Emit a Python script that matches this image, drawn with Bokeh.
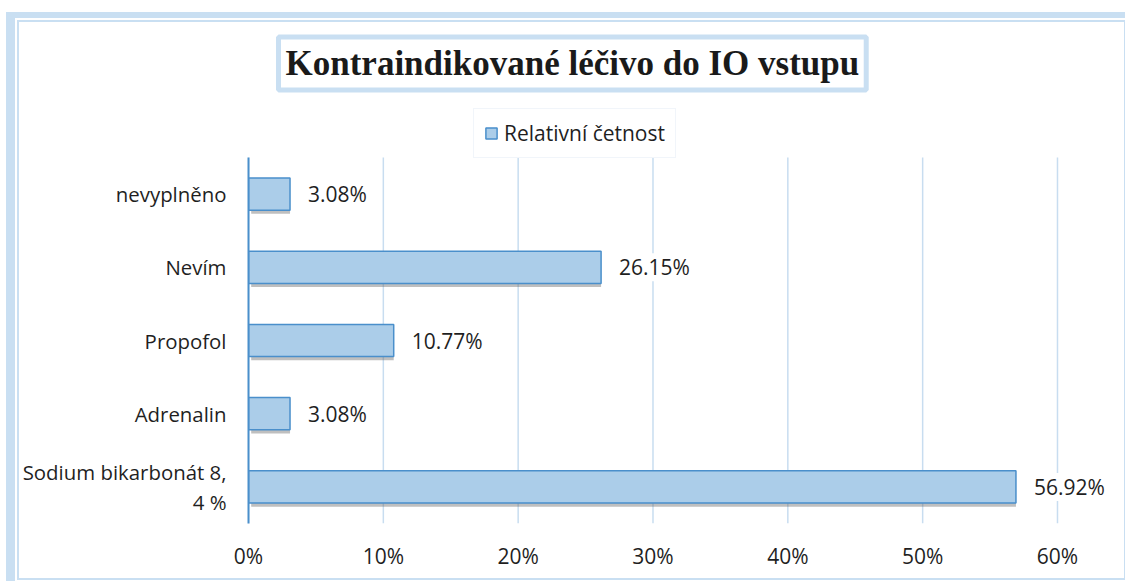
from bokeh.plotting import figure
from bokeh.models import (ColumnDataSource, Range1d, FixedTicker,
                          NumeralTickFormatter, LabelSet, Legend, LegendItem)
from bokeh.core.properties import value
from bokeh.transform import dodge
from bokeh.embed import file_html
from bokeh.resources import INLINE

# ---- data ----
categories = ["nevyplněno", "Nevím", "Propofol", "Adrenalin", "Sodium bikarbonát 8,\n4 %"]
values = [0.0308, 0.2615, 0.1077, 0.0308, 0.5692]
value_labels = ["3.08%", "26.15%", "10.77%", "3.08%", "56.92%"]
x_ticks = [0.0, 0.1, 0.2, 0.3, 0.4, 0.5, 0.6]
series_name = "Relativní četnost"
title_text = "Kontraindikované léčivo do IO vstupu"

FONT = "Open Sans"
FS = "21px"
TXT = "#1f1f1f"
BAR_FILL = "#abcde9"
BAR_LINE = "#4a8fcb"
GRID = "#c8ddf0"
BORDER = "#c9dff2"

n = len(categories)
ypos = [n - 1 - i for i in range(n)]          # first category on top
src = ColumnDataSource(dict(y=ypos, val=values, lab=value_labels))
grid_src = ColumnDataSource(dict(x=x_ticks, y0=[-0.5] * len(x_ticks), y1=[n - 0.5] * len(x_ticks)))

W, H = 1105, 556
p = figure(width=W, height=H, output_backend="svg", toolbar_location=None,
           y_range=Range1d(-0.5, n - 0.5 + 57 / 73.2),
           x_range=Range1d(0, 0.6408),
           min_border_left=229, min_border_right=12,
           min_border_top=78, min_border_bottom=55)
p.outline_line_color = None
p.background_fill_color = "white"
p.border_fill_color = "white"
p.styles = {
    "margin-left": "19px",
    "margin-top": "22px",
    "box-shadow": f"0 0 0 2px {BORDER}, 0 0 0 4px #ffffff, -1px 2px 0 12px {BORDER}",
}

# title
p.title.text = title_text
p.title.align = "left"
p.title.offset = 30
p.title.text_font = "Liberation Serif"
p.title.text_font_style = "bold"
p.title.text_font_size = "35px"
p.title.text_color = "#1a1a1a"
p.title.background_fill_color = "white"
p.title.border_line_color = BORDER
p.title.border_line_width = 5
p.title.padding = 7
p.title.standoff = 21

# gridlines (only over the categories' extent)
p.segment(x0="x", y0="y0", x1="x", y1="y1", source=grid_src,
          line_color=GRID, line_width=1.5)

# shadow under bars
p.hbar(y=dodge("y", -0.05), left=0.002, right="val", height=0.44,
       source=src, fill_color="#5f5f5f", fill_alpha=0.4, line_color=None)
bars = p.hbar(y="y", left=0, right="val", height=0.44, source=src,
              fill_color=BAR_FILL, line_color=BAR_LINE, line_width=1.5)

# axes
p.xaxis.ticker = FixedTicker(ticks=x_ticks)
p.xaxis.formatter = NumeralTickFormatter(format="0%")
p.xaxis.axis_line_color = None
p.xaxis.major_tick_line_color = None
p.xaxis.minor_tick_line_color = None
p.xaxis.major_tick_out = 0
p.xaxis.major_label_standoff = 18
p.xaxis.major_label_text_font = FONT
p.xaxis.major_label_text_font_size = FS
p.xaxis.major_label_text_color = TXT

p.yaxis.ticker = FixedTicker(ticks=ypos)
p.yaxis.major_label_overrides = {yy: c for yy, c in zip(ypos, categories)}
p.yaxis.bounds = (-0.5, n - 0.5)
p.yaxis.axis_line_color = BAR_LINE
p.yaxis.axis_line_width = 2
p.yaxis.major_tick_line_color = None
p.yaxis.minor_tick_line_color = None
p.yaxis.major_tick_out = 0
p.yaxis.major_label_standoff = 22
p.yaxis.major_label_text_font = FONT
p.yaxis.major_label_text_font_size = "20.4px"
p.yaxis.major_label_text_color = TXT
p.yaxis.major_label_text_line_height = 1.05

p.grid.grid_line_color = None

# value labels
labels = LabelSet(x="val", y="y", text="lab", source=src, x_offset=18,
                  text_align="left", text_baseline="middle",
                  text_font=value(FONT), text_font_size=value(FS), text_color=TXT,
                  background_fill_color="white")
p.add_layout(labels)

# legend
legend = Legend(items=[LegendItem(label=series_name, renderers=[bars])],
                location=(225, 365), orientation="horizontal",
                label_text_font=FONT, label_text_font_size=FS, label_text_color=TXT,
                glyph_width=14, glyph_height=14, label_standoff=6, padding=10, margin=0,
                border_line_color="#e3ecf6", border_line_width=1,
                background_fill_color="white")
p.add_layout(legend)

open("out.html", "w").write(file_html(p, INLINE))
